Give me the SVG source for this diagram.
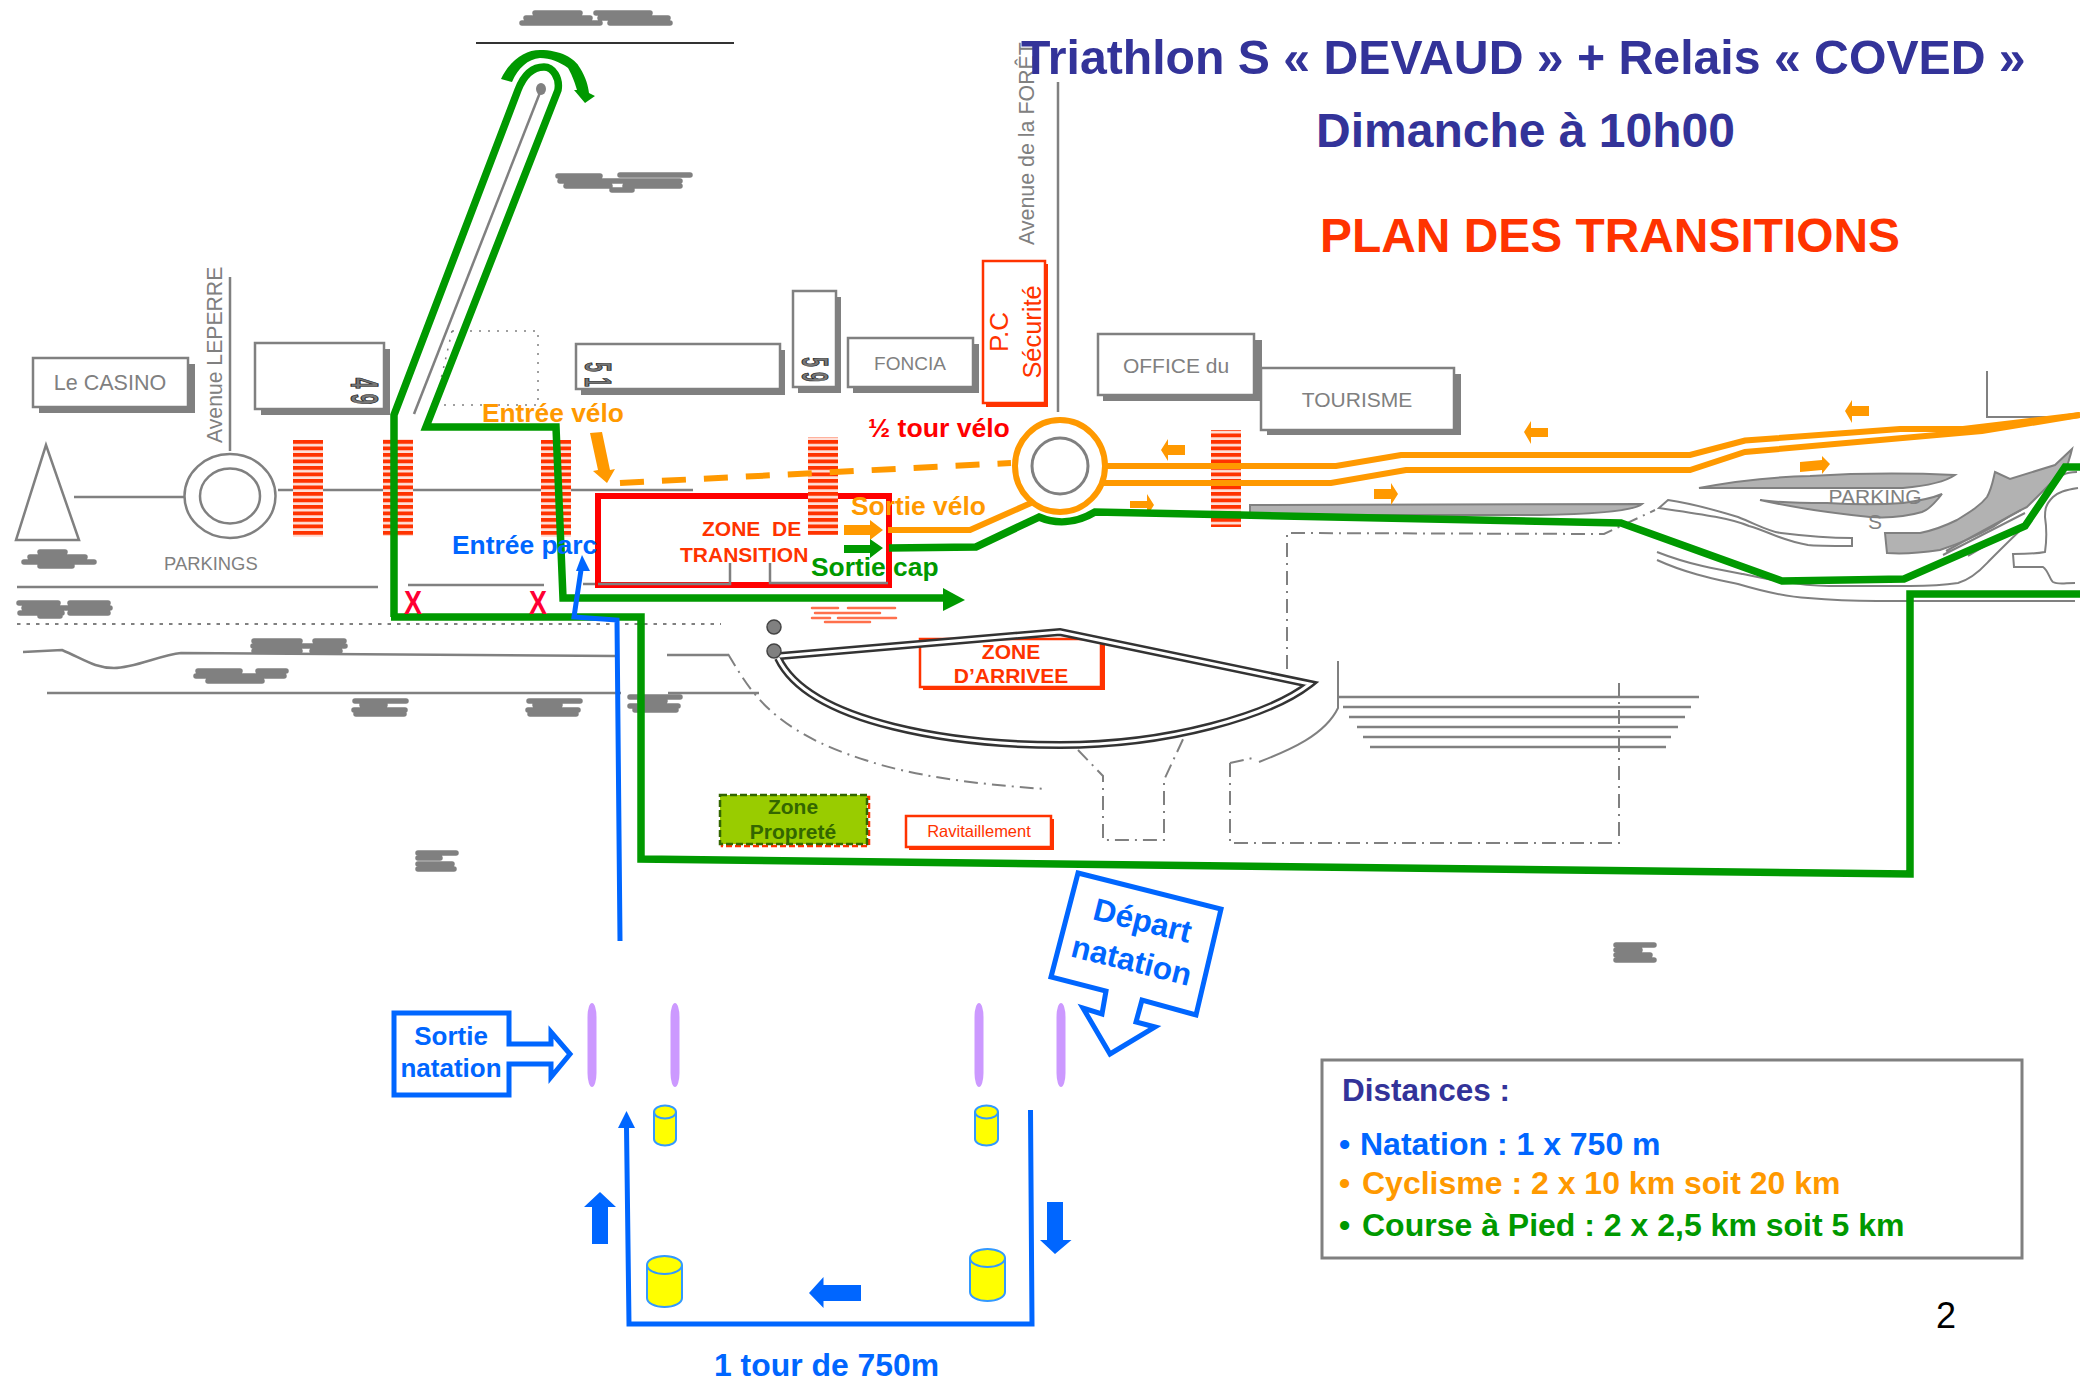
<svg xmlns="http://www.w3.org/2000/svg" width="2080" height="1380" viewBox="0 0 2080 1380">
<style>
text{font-family:"Liberation Sans",Arial,sans-serif}
.b{font-weight:bold}
.m{text-anchor:middle}
.g{fill:#808080}
.or{fill:#f90}.gr{fill:#090}.bl{fill:#06f}.rd{fill:#f30}.nv{fill:#339}
.road{fill:none;stroke:#808080;stroke-width:2.5}
.thin{fill:none;stroke:#808080;stroke-width:2}
.dd{fill:none;stroke:#808080;stroke-width:2;stroke-dasharray:14 6 2 6}
.park{fill:#b2b2b2;stroke:#808080;stroke-width:2}
.sm{fill:none;stroke:#808080;stroke-width:5.5;stroke-linecap:round}
.smr{fill:none;stroke:#f30;stroke-width:2.5;stroke-linecap:round;opacity:.7}
.bld{fill:#fff;stroke:#808080;stroke-width:2.5}
.shd{fill:#808080}
.num{fill:#777;stroke:#222;stroke-width:.5;font-weight:bold;font-size:19px;text-anchor:middle}
.greenl{fill:none;stroke:#090;stroke-width:7.5;stroke-linejoin:miter}
.orl{fill:none;stroke:#f90;stroke-width:6}
.bll{fill:none;stroke:#06f;stroke-width:5}
.hatch{fill:url(#stripes)}
.buoy{fill:#ff0;stroke:#39f;stroke-width:2}
.lane{fill:#c9f}
.call{fill:#fff;stroke:#06f;stroke-width:5;stroke-linejoin:miter}
.ball{fill:#808080;stroke:#444;stroke-width:1.5}
</style>
<defs>
<pattern id="stripes" patternUnits="userSpaceOnUse" width="30" height="6.5" y="440"><rect width="30" height="6.5" fill="#ffe0d8"/><rect width="30" height="3.8" fill="#f30"/></pattern>
</defs>
<rect width="2080" height="1380" fill="#fff"/>

<g id="map">
<path class="thin" d="M476 43H734" style="stroke:#333"/>
<path class="sm" d="M535 13H580M596 13H650M526 18H590M600 18H668M522 23H600M610 23H670"/>
<path class="sm" d="M558 176H600M620 175H690M560 181H680M566 186H610M625 186H680M612 190H632"/>
<path class="road" d="M541 90L414 414"/>
<ellipse cx="541" cy="89" rx="5" ry="6" fill="#808080"/>
<path d="M452 331H538V405H440M452 331L435 405" fill="none" stroke="#808080" stroke-width="1.5" stroke-dasharray="2 7"/>
<path class="road" d="M74 497H184M278 490H693M230 277V451M17 587H378M408 585H544M583 584H730V563M770 563V583H888"/>
<path class="road" d="M23 652L62 650C85 660 95 668 114 668C135 668 160 655 181 653L615 656M667 655H728M47 693H621M668 693H759"/>
<ellipse class="road" cx="230" cy="496" rx="45.5" ry="42"/>
<ellipse class="road" cx="230" cy="496" rx="30" ry="27.5"/>
<path d="M46 445L16 540H79Z" fill="#fff" stroke="#808080" stroke-width="2.5"/>
<path d="M17 624H721" fill="none" stroke="#808080" stroke-width="2" stroke-dasharray="3.5 6"/>
<path class="road" d="M1058 82V412"/>
<path class="sm" d="M40 552H65M30 557H85M24 562H94M40 566H72"/>
<path class="sm" d="M19 603H58M70 603H108M24 608H110M20 613H62M70 613H108M40 616H60"/>
<path class="sm" d="M254 641H300M315 641H344M253 646H345M254 651H300M312 651H340"/>
<path class="sm" d="M198 671H240M258 671H286M196 676H284M208 681H262"/>
<path class="sm" d="M355 701H406M362 705H385M354 710H405M356 714H404"/>
<path class="sm" d="M529 701H580M535 705H560M528 710H578M530 714H576"/>
<path class="sm" d="M630 697H680M640 701H665M630 706H678M635 710H676"/>
<path class="sm" d="M418 853H456M418 858H440M418 864H452M418 869H454"/>
<path class="sm" d="M1616 945H1654M1616 950H1640M1616 955H1650M1616 960H1654"/>
<path class="smr" d="M812 608H838M848 608H895M815 613H880M812 618H830M838 618H896M825 622H870"/>
<path class="dd" d="M728 654C750 690 770 730 865 760C910 775 970 784 1046 789M1078 750L1103 776V840H1164V780L1185 735M1230 763V843H1619V683M1230 763L1253 758M1287 669V533L1604 534L1655 510"/>
<path class="thin" d="M1338 661V708C1325 735 1290 750 1259 762"/>
<path class="road" d="M1338 697H1699M1343 707H1691M1349 717H1685M1357 727H1678M1363 737H1671M1370 747H1666"/>
<path class="park" d="M1250 505C1400 505 1540 505 1642 504C1635 510 1600 514 1540 515L1250 515Z"/>
<path class="thin" d="M1659 508L1668 500C1690 503 1715 510 1738 517C1760 526 1770 532 1781 533C1805 536 1830 538 1852 538V546C1830 546 1815 546 1808 545C1780 540 1770 532 1749 526C1730 518 1700 514 1659 508Z"/>
<path class="park" d="M1699 488C1730 482 1770 477 1810 476C1860 473 1910 473 1955 475C1945 482 1925 486 1903 488Z"/>
<path class="park" d="M1760 500C1780 503 1800 503 1827 503C1860 505 1890 504 1903 503C1925 500 1935 497 1942 494C1935 503 1928 510 1922 512C1905 517 1885 518 1870 517C1840 514 1800 509 1760 500Z"/>
<path class="park" d="M1885 533C1900 533 1910 533 1920 533C1935 530 1945 526 1957 520C1970 512 1980 506 1987 497C1992 488 1993 480 1995 472L2010 479L2055 465L2072 449C2070 458 2068 462 2067 467L2027 507C2010 515 2000 522 1993 527C1975 537 1955 545 1940 550C1920 553 1900 554 1887 553Z"/>
<path class="thin" d="M1657 552C1690 565 1720 570 1743 574C1780 582 1810 586 1829 586H1910C1930 586 1945 585 1958 583C1975 578 1985 565 1990 560C2005 545 2015 535 2025 526M1657 560C1690 575 1720 580 1738 584C1765 592 1790 597 1808 598C1830 600 1850 601 1877 601H2075M2063 475C2068 472 2072 472 2077 472M2078 488C2065 490 2058 492 2053 497C2045 505 2045 510 2045 517C2047 530 2046 545 2045 552C2035 554 2025 554 2013 554L2014 567H2043C2048 570 2050 580 2053 582C2058 585 2065 583 2075 583M1987 371V417H2060M1943 555L2025 513M1946 551L2021 510M1968 556L1985 546"/>
</g>

<g id="crossings">
<rect class="hatch" x="293" y="440" width="30" height="97"/>
<rect class="hatch" x="383" y="439" width="30" height="97"/>
<rect class="hatch" x="541" y="440" width="30" height="97"/>
</g>

<g id="le-casino"><rect class="shd" x="39" y="364" width="156" height="49"/><rect class="bld" x="33" y="358" width="155" height="49"/><text class="g m" x="110" y="390" font-size="21.5">Le CASINO</text></g>
<g id="building-49"><rect class="shd" x="261" y="349" width="129" height="66"/><rect class="bld" x="255" y="343" width="129" height="66"/><text class="num" transform="translate(351,383) rotate(90) scale(1,2)">4</text><text class="num" transform="translate(351,399) rotate(90) scale(1,2)">9</text></g>
<g id="building-51"><rect class="shd" x="581" y="350" width="204" height="45"/><rect class="bld" x="576" y="344" width="204" height="45"/><text class="num" transform="translate(585,367) rotate(90) scale(.9,1.9)">5</text><text class="num" transform="translate(585,382) rotate(90) scale(.9,1.9)">1</text></g>
<g id="building-59"><rect class="shd" x="798" y="297" width="43" height="96"/><rect class="bld" x="793" y="291" width="43" height="96"/><text class="num" transform="translate(802,362) rotate(90) scale(.9,1.9)">5</text><text class="num" transform="translate(802,377) rotate(90) scale(.9,1.9)">9</text></g>
<g id="foncia"><rect class="shd" x="853" y="344" width="126" height="49"/><rect class="bld" x="848" y="338" width="125" height="49"/><text class="g m" x="910" y="370" font-size="19">FONCIA</text></g>
<g id="office"><rect class="shd" x="1103" y="340" width="159" height="61"/><rect class="bld" x="1098" y="334" width="156" height="61"/><text class="g m" x="1176" y="373" font-size="21">OFFICE du</text></g>
<g id="tourisme"><rect class="shd" x="1267" y="374" width="194" height="61"/><rect class="bld" x="1261" y="368" width="193" height="62"/><text class="g m" x="1357" y="407" font-size="21">TOURISME</text></g>

<g id="street-labels">
<text class="g" transform="translate(222,443) rotate(-90)" font-size="21.2">Avenue LEPERRE</text>
<text class="g" transform="translate(1034,245) rotate(-90)" font-size="21.4">Avenue de la FORÊT</text>
<text class="g" x="164" y="570" font-size="18.4">PARKINGS</text>
<text class="g m" x="1875" y="504" font-size="21">PARKING</text>
<text class="g m" x="1875" y="529" font-size="21">S</text>
</g>

<g id="pc-securite"><rect x="986" y="264" width="62" height="143" fill="#f30"/><rect x="983" y="261" width="62" height="142" fill="#fff" stroke="#f30" stroke-width="2.5"/>
<text class="rd m" transform="translate(1008,332) rotate(-90)" font-size="26">P.C</text><text class="rd m" transform="translate(1041,332) rotate(-90)" font-size="25.4">Sécurité</text></g>

<g id="zone-transition"><rect x="598" y="496" width="291" height="89" fill="#fff" stroke="#f00" stroke-width="6"/>
<path class="road" d="M598 584H730V563M770 563V583H888"/>
<text class="rd b" x="702" y="536" font-size="21" xml:space="preserve">ZONE  DE</text><text class="rd b" x="680" y="562" font-size="21">TRANSITION</text></g>

<g id="more-crossings">
<rect class="hatch" x="808" y="437" width="30" height="98"/>
<rect class="hatch" x="1211" y="430" width="30" height="97"/>
</g>

<g id="zone-arrivee"><rect x="923" y="643" width="182" height="47" fill="#f30"/><rect x="920" y="639" width="181" height="48" fill="#fff" stroke="#f30" stroke-width="2.5"/>
<text class="rd b m" x="1011" y="659" font-size="21">ZONE</text><text class="rd b m" x="1011" y="683" font-size="21">D’ARRIVEE</text></g>

<g id="finish-track">
<path d="M780 656L1060 632L1310 684C1270 715 1170 745 1060 745C960 745 810 725 778 658" fill="none" stroke="#333" stroke-width="8" stroke-linejoin="miter"/>
<path d="M780 656L1060 632L1310 684C1270 715 1170 745 1060 745C960 745 810 725 778 658" fill="none" stroke="#fff" stroke-width="3"/>
<ellipse class="ball" cx="774" cy="627" rx="7" ry="7"/><ellipse class="ball" cx="774" cy="651" rx="7" ry="7"/>
</g>

<g id="zone-proprete"><rect x="722" y="797" width="147" height="49" fill="none" stroke="#f30" stroke-width="2.5" stroke-dasharray="6 3"/><rect x="720" y="795" width="147" height="49" fill="#9c0" stroke="#360" stroke-width="2.5" stroke-dasharray="7 3"/>
<text class="m b" x="793" y="814" font-size="21" fill="#360">Zone</text><text class="m b" x="793" y="839" font-size="21" fill="#360">Propreté</text></g>
<g id="ravitaillement"><rect x="909" y="819" width="145" height="31" fill="#f30"/><rect x="906" y="816" width="145" height="31" fill="#fff" stroke="#f30" stroke-width="2.5"/><text class="rd m" x="979" y="837" font-size="16.5">Ravitaillement</text></g>

<g id="connectors">
<g id="bike">
<path class="orl" d="M620 483L1011 463" stroke-dasharray="24 18"/>
<path class="or" d="M590 433L602 432L610 470L615 469L607 483L593 471L598 470Z"/>
<ellipse cx="1060" cy="466" rx="45" ry="46" fill="#fff" stroke="#f90" stroke-width="6"/>
<ellipse cx="1060" cy="466" rx="28" ry="28" fill="#fff" stroke="#808080" stroke-width="3"/>
<path class="orl" d="M1106 466H1336L1401 455H1690L1745 440.5L1900 429H1963L2080 415"/>
<path class="orl" d="M1102 483H1331L1406 470H1690L1745 452L1982 431L2080 415"/>
<path class="orl" d="M888 530H970L1031 503"/>
<path class="or" d="M844 525H870V520L883 530L870 540V535H844Z"/>
<path class="or" d="M1161 450L1168 439V445H1185V455H1168V461Z"/>
<path class="or" d="M1524 432L1531 421V428H1548V437H1531V444Z"/>
<path class="or" d="M1845 411L1852 400V406H1869V416H1852V423Z"/>
<path class="or" d="M1130 501H1147V494L1154 505L1147 516V508H1130Z"/>
<path class="or" d="M1374 489H1391V483L1398 494L1391 505V499H1374Z"/>
<path class="or" d="M1800 462L1822 460V456L1830 464L1822 474V470L1800 472Z"/>
</g>
<g id="run">
<path class="greenl" d="M394 617V415L518 90C525 72 535 67 544 67C553 67 560 78 558 90L426 427H556L563 598H950"/>
<path class="gr" d="M943 588L965 600L943 611Z"/>
<path class="greenl" d="M391 617H641V859L1910 874V594H2080"/>
<path class="greenl" d="M889 548L976 547L1039 517C1055 524 1075 524 1095 512L1240 515L1621 523L1782 581L1904 579L2025 526L2065 467H2080"/>
<path class="gr" d="M844 545H870V539L883 548L870 558V553H844Z"/>
<path class="gr" d="M501 79C510 60 525 50 540 50C560 50 575 58 580 68C586 78 588 85 589 93L595 96L585 103L574 90L577 90C574 80 571 73 568 68C560 62 550 58 540 58C528 59 518 68 512 82Z"/>
</g>
<g id="swim">
<path class="bll" d="M620 941L617 620L574 617L581 570"/>
<path class="bl" d="M582 555L590 571H576Z"/>
<path class="bll" d="M626.5 1127L629 1324H1032L1030.5 1110"/>
<path class="bl" d="M626.5 1111L635 1128H618Z"/>
<path class="bl" d="M600 1192L616 1207H608V1244H592V1207H584Z"/>
<path class="bl" d="M1047 1202H1063V1240H1071.5L1055 1254L1040 1240H1047Z"/>
<path class="bl" d="M809 1293L823.5 1277V1285H861V1301H823.5V1308Z"/>
</g>
</g>

<g id="crosses"><text x="413" y="614" font-size="34" textLength="18" lengthAdjust="spacingAndGlyphs" class="b m" fill="#f03">X</text><text x="538" y="614" font-size="34" textLength="18" lengthAdjust="spacingAndGlyphs" class="b m" fill="#f03">X</text></g>

<g id="labels">
<text class="or b" x="482" y="422" font-size="26.3">Entrée vélo</text>
<text class="b" x="868" y="437" font-size="26.6" fill="#f00">½ tour vélo</text>
<text class="or b" x="851" y="515" font-size="26.4">Sortie vélo</text>
<text class="gr b" x="811" y="576" font-size="26.4">Sortie cap</text>
<text class="bl b" x="452" y="554" font-size="26.4">Entrée parc</text>
</g>

<g id="lanes">
<rect class="lane" x="587.5" y="1003" width="9" height="84" rx="4.5" ry="14"/><rect class="lane" x="670.5" y="1003" width="9" height="84" rx="4.5" ry="14"/><rect class="lane" x="974.5" y="1003" width="9" height="84" rx="4.5" ry="14"/><rect class="lane" x="1056.5" y="1003" width="9" height="84" rx="4.5" ry="14"/>
</g>
<g id="buoys">
<path class="buoy" d="M654 1112A11 6.5 0 0 1 676 1112V1139A11 6.5 0 0 1 654 1139Z"/><path class="buoy" d="M654 1112A11 6.5 0 0 0 676 1112"/>
<path class="buoy" d="M975 1112A11.5 6.5 0 0 1 998 1112V1139A11.5 6.5 0 0 1 975 1139Z"/><path class="buoy" d="M975 1112A11.5 6.5 0 0 0 998 1112"/>
<path class="buoy" d="M647 1265A17.5 9 0 0 1 682 1265V1298A17.5 9 0 0 1 647 1298Z"/><path class="buoy" d="M647 1265A17.5 9 0 0 0 682 1265"/>
<path class="buoy" d="M970 1258A17.5 9 0 0 1 1005 1258V1292A17.5 9 0 0 1 970 1292Z"/><path class="buoy" d="M970 1258A17.5 9 0 0 0 1005 1258"/>
</g>
<g id="sortie-natation"><path class="call" d="M394 1013H509V1044H551V1032L570 1054L551 1077V1064H509V1095H394Z"/><text class="bl b m" x="451" y="1045" font-size="26">Sortie</text><text class="bl b m" x="451" y="1077" font-size="26">natation</text></g>
<g id="depart-natation"><path class="call" d="M1078 873L1221 909L1196 1015L1142 1000L1136 1022L1155 1027L1110 1054L1083 1008L1102 1014L1106 991L1051 977Z"/><text class="bl b m" transform="translate(1140,931) rotate(14)" font-size="31.5">Départ</text><text class="bl b m" transform="translate(1129,971) rotate(14)" font-size="31.5">natation</text></g>
<text id="tour" class="bl b" x="714" y="1376" font-size="31.9">1 tour de 750m</text>

<g id="title">
<text class="nv b" x="1021" y="74" font-size="48.2">Triathlon S « DEVAUD » + Relais « COVED »</text>
<text class="nv b" x="1316" y="147" font-size="48">Dimanche à 10h00</text>
<text class="rd b" x="1320" y="252" font-size="47.9">PLAN DES TRANSITIONS</text>
</g>
<g id="distances"><rect x="1322" y="1060" width="700" height="198" fill="#fff" stroke="#808080" stroke-width="3"/>
<text class="nv b" x="1342" y="1101" font-size="31.5">Distances :</text>
<text class="bl b" x="1339" y="1155" font-size="32">•</text><text class="bl b" x="1360" y="1155" font-size="32">Natation : 1 x 750 m</text>
<text class="or b" x="1339" y="1194" font-size="32">•</text><text class="or b" x="1362" y="1194" font-size="32">Cyclisme : 2 x 10 km soit 20 km</text>
<text class="gr b" x="1339" y="1236" font-size="32">•</text><text class="gr b" x="1362" y="1236" font-size="32">Course à Pied : 2 x 2,5 km soit 5 km</text>
</g>
<text id="page" x="1936" y="1328" font-size="36" fill="#000">2</text>
</svg>
